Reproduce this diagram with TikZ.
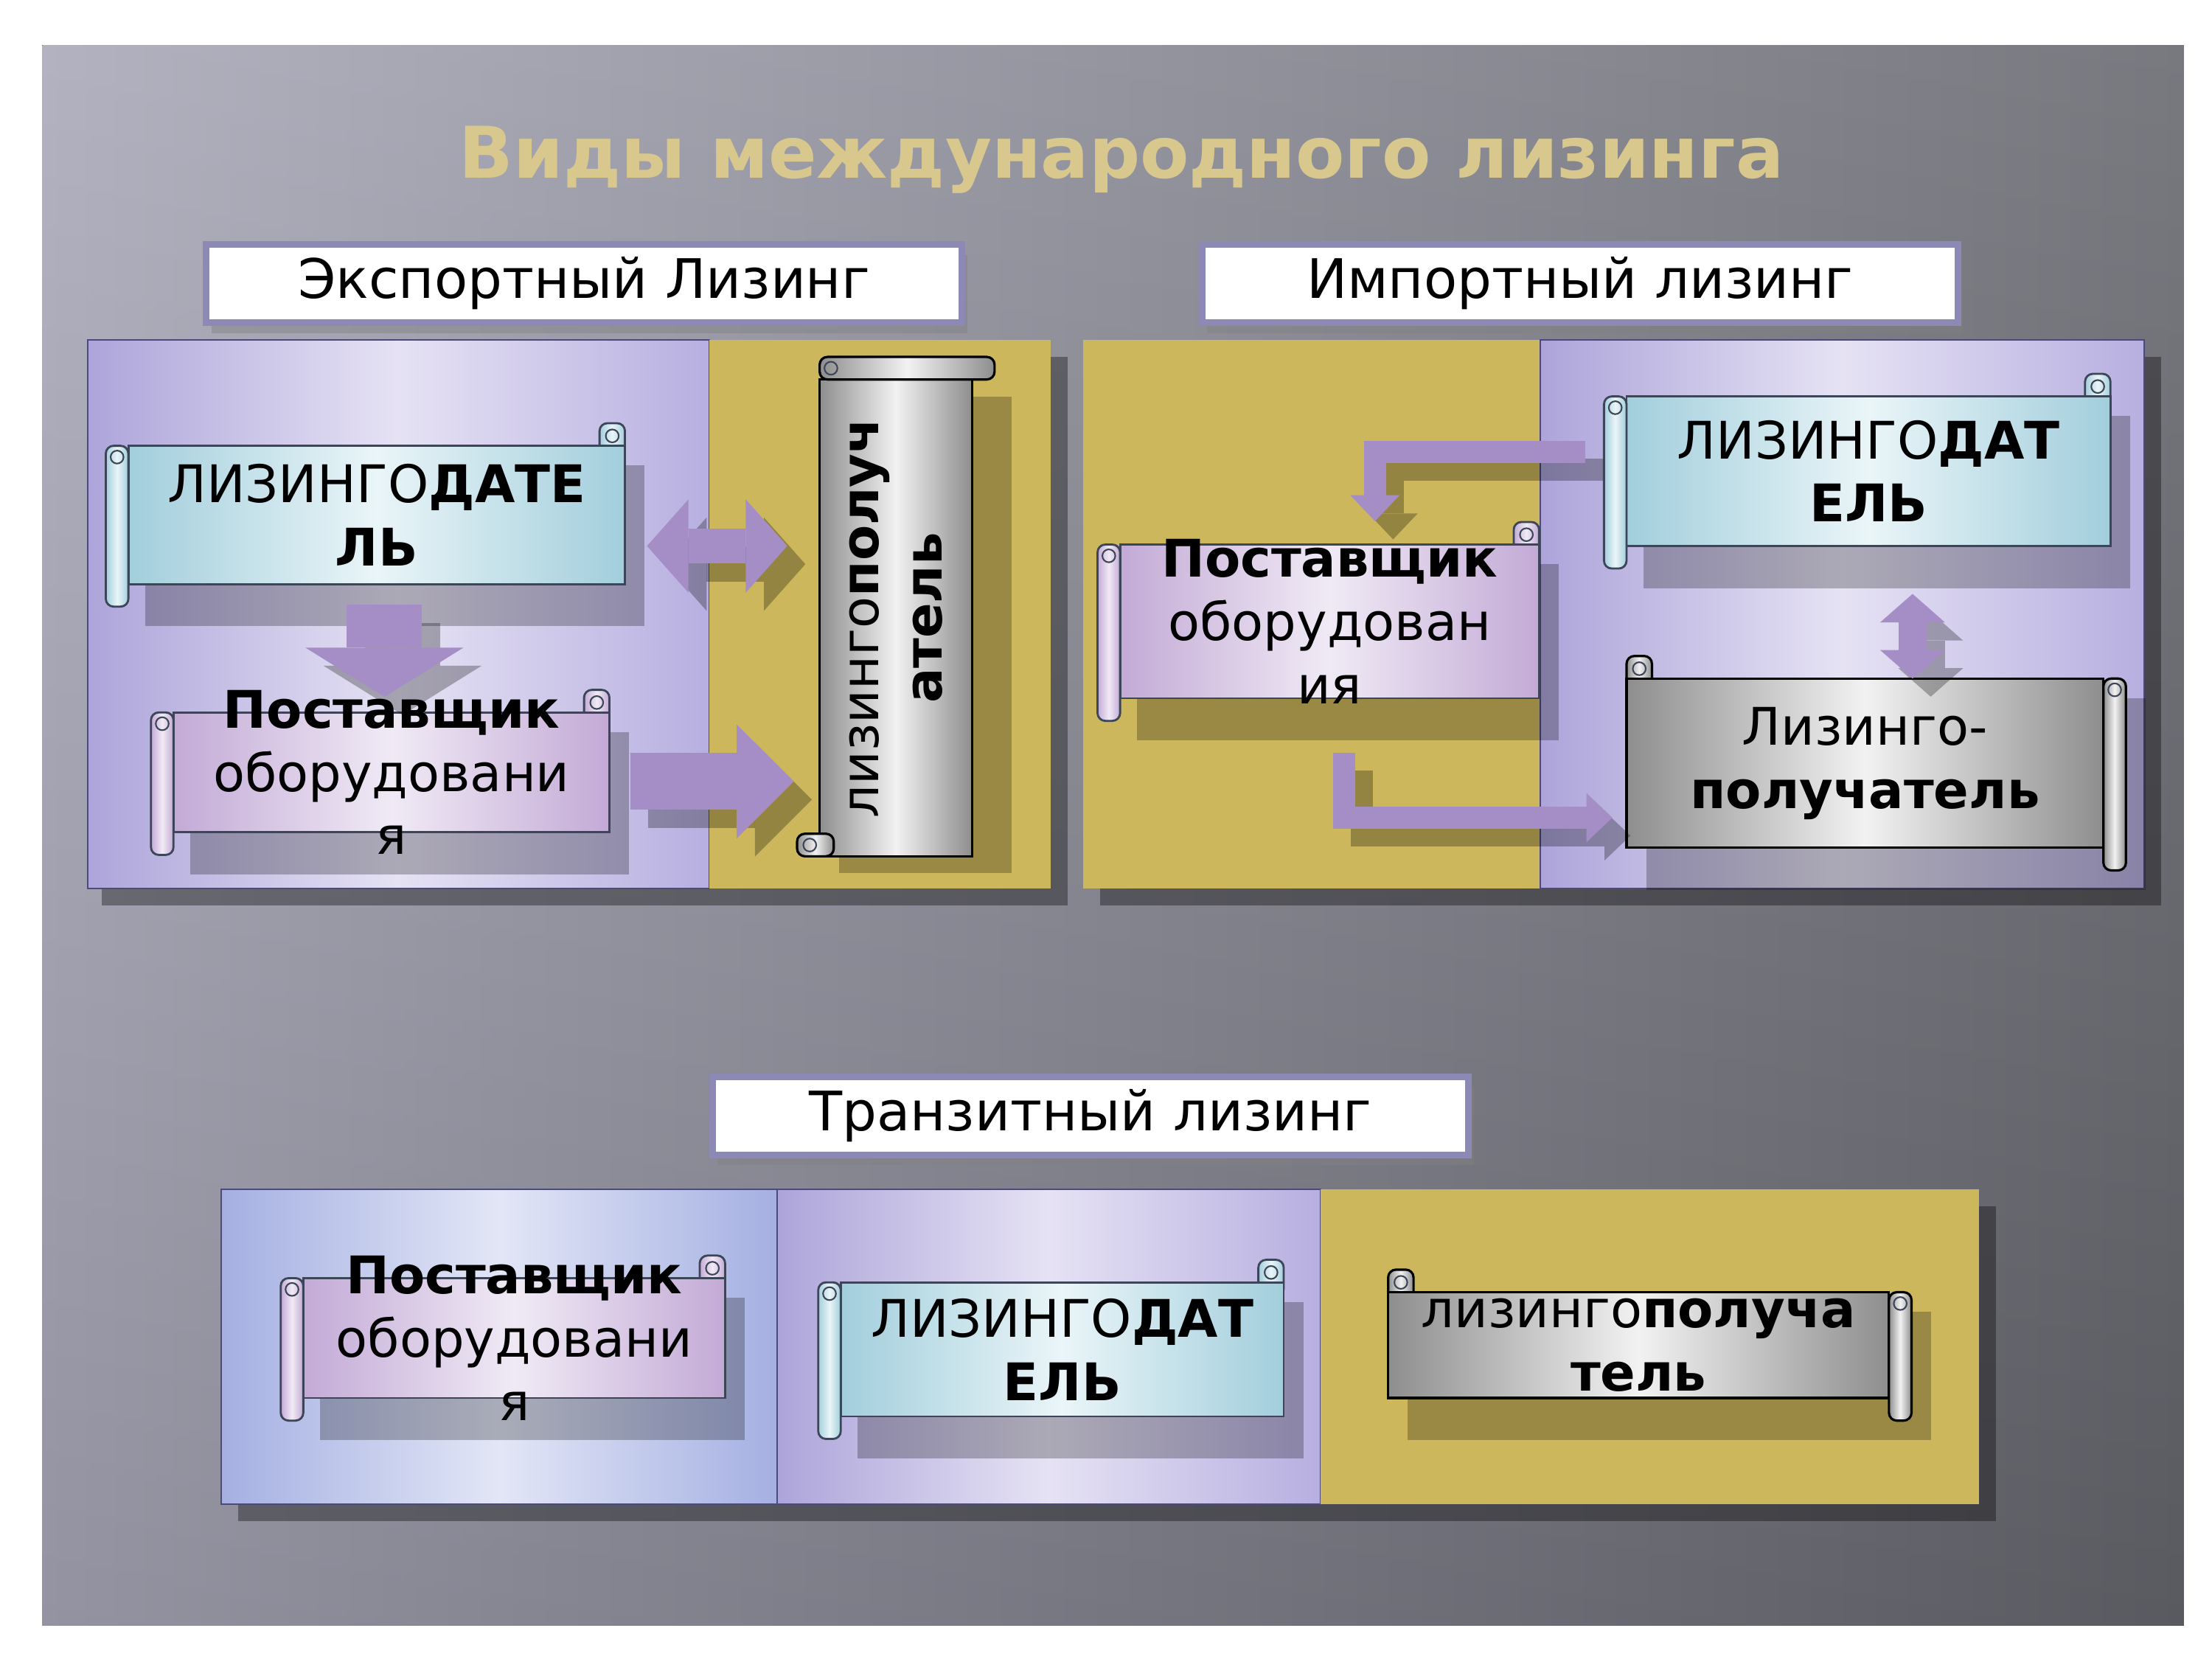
\documentclass[tikz,border=0pt]{standalone}
\usepackage{fontspec}
\setmainfont{DejaVu Sans}
\usetikzlibrary{positioning,fit,calc,arrows.meta,shadows}

\definecolor{slideL}{HTML}{A8A8B8}
\definecolor{slideR}{HTML}{66666E}
\definecolor{titleC}{HTML}{D8C88E}
\definecolor{hdrLine}{HTML}{8C89B5}
\definecolor{lavL}{HTML}{ADA5DA}
\definecolor{lavM}{HTML}{E6E2F4}
\definecolor{lavR}{HTML}{B7AFE0}
\definecolor{goldC}{HTML}{CDB75C}
\definecolor{bluL}{HTML}{A5B0E2}
\definecolor{bluM}{HTML}{E2E6F6}
\definecolor{skyL}{HTML}{A2CEDC}
\definecolor{skyM}{HTML}{EAF5F8}
\definecolor{pinkL}{HTML}{C3AAD6}
\definecolor{pinkM}{HTML}{F0EAF5}
\definecolor{grayL}{HTML}{8E8E8E}
\definecolor{grayM}{HTML}{F2F2F2}
\definecolor{scrollLine}{HTML}{3C4658}
\definecolor{panelLine}{HTML}{4C4A78}
\definecolor{arrowC}{HTML}{A58DC6}

% horizontal scroll: name, x1, y1, x2, y2, colour style, text
\newcommand{\hscroll}[7]{%
  \fill[scrollshade] (#2+28,#3+30) rectangle (#4+14,#5+14);
  \draw[#6, rounded corners=3pt] (#4-18,#3) rectangle (#4,#3+26);
  \draw[scrollline] (#4-9,#3+9) circle (2.5pt);
  \node[scrollbody, #6, fit={(#2+16,#3+16) (#4,#5-16)}] (#1) {};
  \draw[#6, rounded corners=3pt] (#2,#3+16) rectangle (#2+16,#5);
  \draw[scrollline] (#2+8,#3+24) circle (2.5pt);
  \node[scrolltext] (#1-t) at (#1) {#7};
}
% mirrored scroll: roll on the right
\newcommand{\hscrollr}[7]{%
  \fill[scrollshade] (#2+14,#3+30) rectangle (#4+14,#5+14);
  \draw[#6, rounded corners=3pt] (#2,#3) rectangle (#2+18,#3+26);
  \draw[scrollline] (#2+9,#3+9) circle (2.5pt);
  \node[scrollbody, #6, fit={(#2,#3+16) (#4-16,#5-16)}] (#1) {};
  \draw[#6, rounded corners=3pt] (#4-16,#3+16) rectangle (#4,#5);
  \draw[scrollline] (#4-8,#3+24) circle (2.5pt);
  \node[scrolltext] (#1-t) at (#1) {#7};
}
% vertical scroll: roll on top
\newcommand{\vscroll}[7]{%
  \fill[scrollshade] (#2+30,#3+28) rectangle (#4+12,#5+12);
  \node[scrollbody, #6, fit={(#2+16,#3+16) (#4-16,#5)}] (#1) {};
  \draw[#6, rounded corners=3pt] (#2+16,#3) rectangle (#4,#3+16);
  \draw[scrollline] (#2+24,#3+8) circle (2.5pt);
  \draw[#6, rounded corners=3pt] (#2,#5-16) rectangle (#2+26,#5);
  \draw[scrollline] (#2+9,#5-8) circle (2.5pt);
  \node[scrolltext, rotate=90] (#1-t) at (#1) {#7};
}

\begin{document}
\begin{tikzpicture}[x=0.19133mm, y=-0.19133mm,
    slide/.style={left color=slideL, right color=slideR},
    panelshade/.style={fill=black, opacity=.35},
    lavpanel/.style={draw=panelLine, line width=.6pt, left color=lavL, right color=lavR, middle color=lavM},
    blupanel/.style={draw=panelLine, line width=.6pt, left color=bluL, right color=bluL, middle color=bluM},
    goldpanel/.style={fill=goldC},
    hdr/.style={draw=hdrLine, line width=2.5pt, fill=white, minimum width=102.5mm, minimum height=10.6mm,
      font=\fontsize{21}{25}\selectfont, drop shadow={opacity=.45, shadow xshift=2pt, shadow yshift=-4pt}},
    titletext/.style={font=\fontsize{27.5}{32}\selectfont\bfseries, text=titleC},
    scrollshade/.style={fill=black, opacity=.25},
    scrollbody/.style={inner sep=0pt, outer sep=0pt},
    scrollline/.style={draw=scrollLine, line width=.6pt},
    scrolltext/.style={align=center, font=\fontsize{20}{24.4}\selectfont},
    sky/.style={draw=scrollLine, line width=.8pt, left color=skyL, right color=skyL, middle color=skyM},
    pink/.style={draw=scrollLine, line width=.8pt, left color=pinkL, right color=pinkL, middle color=pinkM},
    metal/.style={draw=black, line width=.9pt, left color=grayL, right color=grayL, middle color=grayM},
    arrowbody/.style={draw=arrowC},
    arrowshade/.style={draw=black, opacity=.28, transform canvas={shift={(7pt,-7pt)}}},
    blk/.style n args={3}{line width=#1, -{Triangle[length=#2, width=#3, line width=0pt]}},
    blkd/.style n args={3}{line width=#1, {Triangle[length=#2, width=#3, line width=0pt]}-{Triangle[length=#2, width=#3, line width=0pt]}}
  ]
  \useasboundingbox (0,0) rectangle (1568,1176);

  % slide background
  \fill[slide] (30,32) rectangle (1548,1152);
  \shade[top color=white, bottom color=black, opacity=.12] (30,32) rectangle (1548,1152);

  \node[titletext] (title) at (795,113) {Виды международного лизинга};

  % headers
  \node[hdr] (exp) at (414,201) {Экспортный Лизинг};
  \node[hdr] (imp) at (1120,201) {Импортный лизинг};
  \node[hdr] (tra) at (773,791) {Транзитный лизинг};

  % panels
  \fill[panelshade] (72,253) rectangle (757,642);
  \fill[panelshade] (780,253) rectangle (1532,642);
  \fill[panelshade] (169,855) rectangle (1415,1078);
  \fill[lavpanel] (62,241) rectangle (503,630);
  \fill[goldpanel] (503,241) rectangle (745,630);
  \fill[goldpanel] (768,241) rectangle (1092,630);
  \fill[lavpanel] (1092,241) rectangle (1520,630);
  \fill[blupanel] (157,843) rectangle (551,1066);
  \fill[lavpanel] (551,843) rectangle (936,1066);
  \fill[goldpanel] (936,843) rectangle (1403,1066);

  % Export leasing
  \hscroll{ld1}{75}{300}{443}{430}{sky}{ЛИЗИНГО\textbf{ДАТЕ}\\\textbf{ЛЬ}}
  \hscroll{ps1}{107}{489}{432}{606}{pink}{\textbf{Поставщик}\\оборудовани\\я}
  \vscroll{lp1}{565}{253}{705}{607}{metal}{лизинго\textbf{получ}\\\textbf{атель}}

  \draw[arrowshade, blk={29pt}{19pt}{61pt}, shorten <=8pt, shorten >=6pt] ([xshift=3pt]ld1.south) -- ([xshift=3pt]ld1.south |- ps1.north);
  \draw[arrowbody, blk={29pt}{19pt}{61pt}, shorten <=8pt, shorten >=6pt] ([xshift=3pt]ld1.south) -- ([xshift=3pt]ld1.south |- ps1.north);
  \draw[arrowshade, blkd={13.5pt}{16pt}{36pt}, shorten <=8.5pt, shorten >=12.5pt] ([yshift=-12pt]ld1.east) -- ([yshift=-12pt]ld1.east -| lp1.west);
  \draw[arrowbody, blkd={13.5pt}{16pt}{36pt}, shorten <=8.5pt, shorten >=12.5pt] ([yshift=-12pt]ld1.east) -- ([yshift=-12pt]ld1.east -| lp1.west);
  \draw[arrowshade, blk={22pt}{22pt}{44pt}, shorten <=8pt, shorten >=10pt] ([yshift=-3.5pt]ps1.east) -- ([yshift=-3.5pt]ps1.east -| lp1.west);
  \draw[arrowbody, blk={22pt}{22pt}{44pt}, shorten <=8pt, shorten >=10pt] ([yshift=-3.5pt]ps1.east) -- ([yshift=-3.5pt]ps1.east -| lp1.west);

  % Import leasing
  \hscroll{ps2}{778}{370}{1091}{511}{pink}{\textbf{Поставщик}\\оборудован\\ия}
  \hscroll{ld2}{1137}{265}{1496}{403}{sky}{ЛИЗИНГО\textbf{ДАТ}\\\textbf{ЕЛЬ}}
  \hscrollr{lp2}{1153}{465}{1507}{617}{metal}{Лизинго-\\\textbf{получатель}}

  \draw[arrowshade, blk={8.5pt}{10pt}{19pt}, shorten <=16pt, shorten >=9pt] ([yshift=7.5pt]ld2.west) -| ([xshift=17.5pt]ps2.north);
  \draw[arrowbody, blk={8.5pt}{10pt}{19pt}, shorten <=16pt, shorten >=9pt] ([yshift=7.5pt]ld2.west) -| ([xshift=17.5pt]ps2.north);
  \draw[arrowshade, blkd={11pt}{11pt}{25pt}, shorten <=18.5pt] ([xshift=17pt]ld2.south) -- ([xshift=17pt]ld2.south |- lp2.north);
  \draw[arrowbody, blkd={11pt}{11pt}{25pt}, shorten <=18.5pt] ([xshift=17pt]ld2.south) -- ([xshift=17pt]ld2.south |- lp2.north);
  \draw[arrowshade, blk={8.5pt}{10pt}{19pt}, shorten <=21pt, shorten >=5.5pt] ([xshift=5.5pt]ps2.south) |- ([yshift=-21pt]lp2.west);
  \draw[arrowbody, blk={8.5pt}{10pt}{19pt}, shorten <=21pt, shorten >=5.5pt] ([xshift=5.5pt]ps2.south) |- ([yshift=-21pt]lp2.west);

  % Transit leasing
  \hscroll{ps3}{199}{890}{514}{1007}{pink}{\textbf{Поставщик}\\оборудовани\\я}
  \hscroll{ld3}{580}{893}{910}{1020}{sky}{ЛИЗИНГО\textbf{ДАТ}\\\textbf{ЕЛЬ}}
  \hscrollr{lp3}{984}{900}{1355}{1007}{metal}{лизинго\textbf{получа}\\\textbf{тель}}
\end{tikzpicture}
\end{document}
